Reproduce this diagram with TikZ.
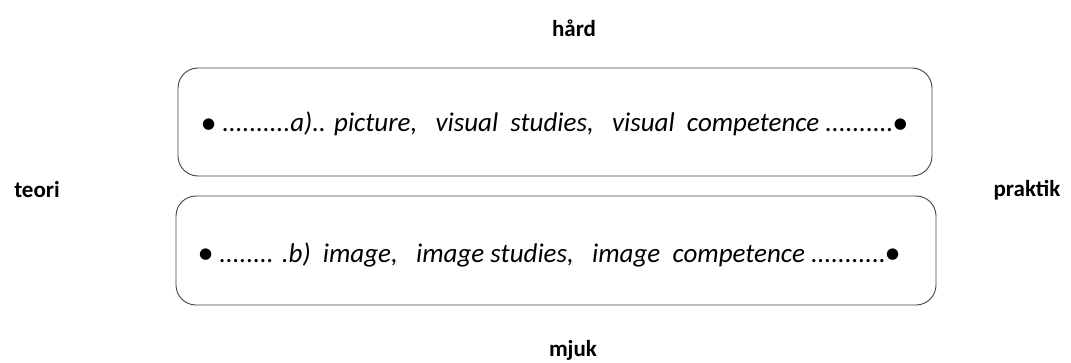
\documentclass[tikz,border=0pt]{standalone}
\usepackage{fontspec}
\setmainfont{Carlito}
\newfontfamily\symfont{DejaVu Sans}
\newcommand{\blob}{\raisebox{3.5pt}{\symfont\fontsize{15}{18}\selectfont●}}
\begin{document}
\begin{tikzpicture}[x=1pt,y=1pt,
  pole/.style={font=\bfseries\fontsize{23}{26}\selectfont, inner sep=0pt},
  band/.style={draw=black!75, line width=0.9pt, rounded corners=20pt},
  line/.style={font=\itshape\fontsize{27}{30}\selectfont, inner sep=0pt, anchor=base west}]
\useasboundingbox (0,0) rectangle (1071,362);
\node[pole] (hard) at (574,334) {hård};
\node[pole] (mjuk) at (573,12) {mjuk};
\node[pole] (teori) at (37,172) {teori};
\node[pole] (praktik) at (1027,172) {praktik};
\draw[band] (178,186) rectangle (932,294);
\draw[band] (176,57) rectangle (936,166);
\node[line] (la) at (202,230) {\blob\hspace{7pt}..........a).. picture,~~ visual~ studies,~~ visual~ competence ..........\blob};
\node[line] (lb) at (199,100) {\blob\hspace{7pt}........ .b)~ image,~~ image studies,~~ image~ competence ...........\blob};
\end{tikzpicture}
\end{document}
